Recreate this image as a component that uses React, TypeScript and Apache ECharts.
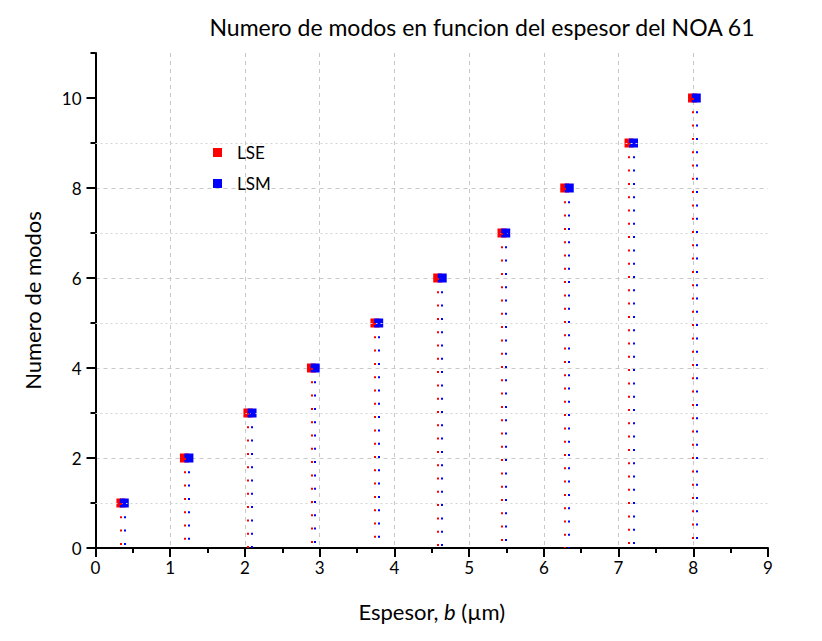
import React, { useEffect, useRef } from "react";
import * as echarts from "echarts";

const modeCounts = [1, 2, 3, 4, 5, 6, 7, 8, 9, 10];
const lseThickness = [0.34, 1.19, 2.04, 2.89, 3.74, 4.58, 5.44, 6.28, 7.14, 7.99];
const lsmThickness = [0.385, 1.25, 2.095, 2.94, 3.79, 4.64, 5.49, 6.34, 7.2, 8.04];
const majorYTicks = [0, 2, 4, 6, 8, 10];
const minorYTicks = [1, 3, 5, 7, 9, 11];
const minorYGrid = [1, 3, 5, 7, 9];

const FONT = "Lato";

function dropLines(xs: number[], ys: number[]) {
  return xs.map((x, i) => [{ coord: [x, ys[i]] }, { coord: [x, 0] }]);
}

export default function App() {
  const ref = useRef<HTMLDivElement>(null);
  useEffect(() => {
    if (!ref.current) return;
    const chart = echarts.init(ref.current, null, { renderer: "svg" });
    const gridDash = { color: "#c8c8c8", width: 1, type: [4, 4] as any };
    chart.setOption({
      animation: false,
      backgroundColor: "#ffffff",
      title: {
        text: "Numero de modos en funcion del espesor del NOA 61",
        left: 477,
        top: 10,
        textAlign: "center",
        textStyle: { fontFamily: FONT, fontSize: 23, fontWeight: "normal", color: "#000" },
      },
      legend: {
        orient: "vertical",
        left: 208,
        top: 139,
        itemWidth: 9,
        itemHeight: 9,
        itemGap: 14,
        icon: "rect",
        textStyle: { fontFamily: FONT, fontSize: 17, color: "#000", padding: [0, 0, 0, 10] },
        data: ["LSE", "LSM"],
      },
      grid: { left: 95.5, right: 54, top: 53, bottom: 93 },
      xAxis: {
        type: "value",
        min: 0,
        max: 9,
        interval: 1,
        name: "{a|Espesor, }{i|b}{a| (µm)}",
        nameLocation: "middle",
        nameGap: 52,
        nameTextStyle: {
          rich: {
            a: { fontFamily: FONT, fontSize: 22, color: "#000" },
            i: { fontFamily: FONT, fontSize: 22, color: "#000", fontStyle: "italic" },
          },
        },
        axisLine: { lineStyle: { color: "#000", width: 2 } },
        axisTick: { length: 9, lineStyle: { color: "#000", width: 2 } },
        minorTick: { show: true, splitNumber: 2, length: 5, lineStyle: { color: "#000", width: 2 } },
        axisLabel: { fontFamily: FONT, fontSize: 17, color: "#000", margin: 11 },
        splitLine: { show: true, showMinLine: false, showMaxLine: false, lineStyle: gridDash },
      },
      yAxis: [
        {
          type: "value",
          min: 0,
          max: 11,
          interval: 2,
          name: "Numero de modos",
          nameLocation: "middle",
          nameGap: 52,
          nameTextStyle: { fontFamily: FONT, fontSize: 22, color: "#000" },
          axisLine: { show: true, lineStyle: { color: "#000", width: 2 } },
          axisTick: { show: true, length: 9, customValues: majorYTicks, lineStyle: { color: "#000", width: 2 } },
          axisLabel: { fontFamily: FONT, fontSize: 17, color: "#000", margin: 14, customValues: majorYTicks },
          splitLine: { show: true, showMinLine: false, showMaxLine: false, lineStyle: gridDash },
        },
        {
          type: "value",
          min: 0,
          max: 11,
          position: "left",
          axisLine: { show: false },
          axisTick: { show: true, length: 5, customValues: minorYTicks, lineStyle: { color: "#000", width: 2 } },
          axisLabel: { show: false },
          splitLine: { show: false },
        },
      ],
      series: [
        {
          name: "minorGrid",
          type: "scatter",
          data: [],
          silent: true,
          markLine: {
            silent: true,
            symbol: ["none", "none"],
            label: { show: false },
            lineStyle: { color: "#d4d4d4", width: 1, type: [2, 3] },
            data: minorYGrid.map((v) => ({ yAxis: v })),
          },
        },
        {
          name: "LSE",
          type: "scatter",
          symbol: "rect",
          symbolSize: 9,
          itemStyle: { color: "#ff0000", opacity: 1 },
          data: lseThickness.map((x, i) => [x, modeCounts[i]]),
          markLine: {
            silent: true,
            symbol: ["none", "none"],
            label: { show: false },
            lineStyle: { color: "#ff0000", width: 2, type: [2, 11.3], opacity: 1 },
            data: dropLines(lseThickness, modeCounts),
          },
        },
        {
          name: "LSM",
          type: "scatter",
          symbol: "rect",
          symbolSize: 9,
          itemStyle: { color: "#0000ff", opacity: 1 },
          data: lsmThickness.map((x, i) => [x, modeCounts[i]]),
          markLine: {
            silent: true,
            symbol: ["none", "none"],
            label: { show: false },
            lineStyle: { color: "#0000ff", width: 2, type: [2, 11.3], opacity: 1 },
            data: dropLines(lsmThickness, modeCounts),
          },
        },
      ],
    });
    return () => chart.dispose();
  }, []);
  return (
    <div
      ref={ref}
      style={{ position: "absolute", left: 0, top: 0, width: 822, height: 641 }}
    />
  );
}
